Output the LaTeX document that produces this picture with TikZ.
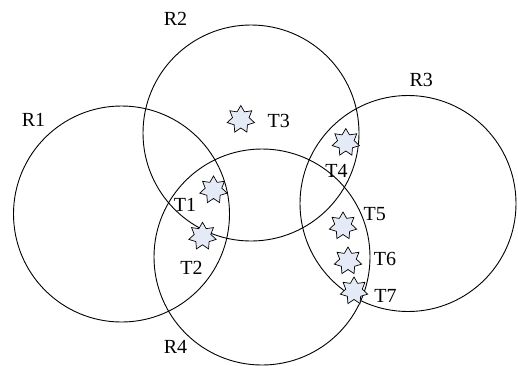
\documentclass[tikz,border=0pt]{standalone}
\usepackage{fontspec}
\setmainfont{Liberation Serif}
\usetikzlibrary{shapes.geometric}
\definecolor{starfill}{RGB}{228,234,246}
\begin{document}
\begin{tikzpicture}[x=1pt,y=-1pt,
  region/.style={circle,draw,line width=0.9pt,minimum size=216pt,inner sep=0pt},
  tag/.style={star,star points=7,star point ratio=1.65,draw,line width=0.7pt,fill=starfill,minimum size=28pt,inner sep=0pt},
  lbl/.style={inner sep=0pt,font=\fontsize{20}{24}\selectfont}]
\useasboundingbox (0,0) rectangle (518,365);
\node[region] (c1) at (121.5,214) {};
\node[region] (c2) at (251,133) {};
\node[region] (c3) at (408,203.5) {};
\node[region] (c4) at (262,257) {};
\node[tag] (s1) at (213.5,190) {};
\node[tag] (s2) at (202.5,236.3) {};
\node[tag] (s3) at (240.8,119.5) {};
\node[tag] (s4) at (345.8,142.5) {};
\node[tag] (s5) at (343,226) {};
\node[tag] (s6) at (348,261) {};
\node[tag] (s7) at (354,291) {};
\node[lbl] (l1) at (33.5,120) {R1};
\node[lbl] (l2) at (175.5,19) {R2};
\node[lbl] (l3) at (421.3,80) {R3};
\node[lbl] (l4) at (175.5,347) {R4};
\node[lbl] (t1) at (185,205) {T1};
\node[lbl] (t2) at (191.5,268) {T2};
\node[lbl] (t3) at (278.7,121.3) {T3};
\node[lbl] (t4) at (336.5,171) {T4};
\node[lbl] (t5) at (374.7,214) {T5};
\node[lbl] (t6) at (385,259) {T6};
\node[lbl] (t7) at (385.5,296) {T7};
\end{tikzpicture}
\end{document}
